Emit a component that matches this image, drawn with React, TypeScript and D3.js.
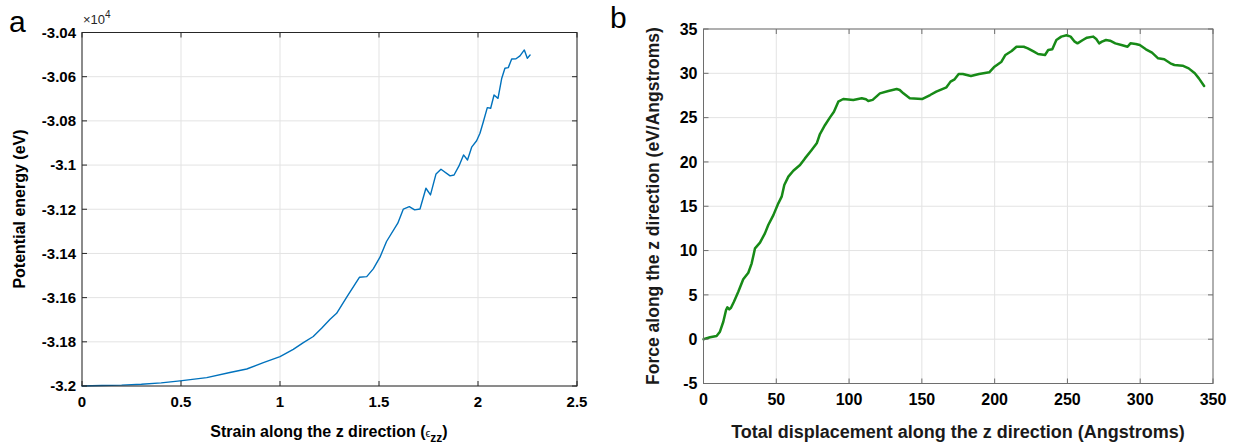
import React from "react";
import * as d3 from "d3";

// ---------- Panel a data (strain vs potential energy, ×10^4 eV) ----------
const strainA = [0, 0.1, 0.2, 0.3, 0.4, 0.495, 0.63, 0.747, 0.832, 0.916, 1.0, 1.067, 1.118, 1.168, 1.21, 1.253, 1.286, 1.337, 1.401, 1.438, 1.471, 1.505, 1.538, 1.595, 1.623, 1.653, 1.68, 1.707, 1.737, 1.76, 1.788, 1.813, 1.859, 1.879, 1.904, 1.927, 1.947, 1.968, 1.993, 2.01, 2.027, 2.047, 2.064, 2.081, 2.101, 2.12, 2.136, 2.153, 2.17, 2.192, 2.212, 2.234, 2.249, 2.263];
const energyA = [-3.2, -3.1998, -3.1996, -3.1992, -3.1986, -3.1977, -3.1962, -3.1939, -3.1923, -3.1894, -3.1867, -3.1834, -3.1804, -3.1776, -3.1739, -3.1698, -3.1671, -3.1598, -3.1508, -3.1505, -3.147, -3.1417, -3.1346, -3.1263, -3.1199, -3.1188, -3.1203, -3.1199, -3.1105, -3.1135, -3.104, -3.1019, -3.1049, -3.1045, -3.1004, -3.0954, -3.0977, -3.0919, -3.089, -3.0856, -3.0804, -3.074, -3.0743, -3.0683, -3.0698, -3.0607, -3.0562, -3.0559, -3.052, -3.0519, -3.0506, -3.0479, -3.0517, -3.0502];
const xTicksA = [0, 0.5, 1, 1.5, 2, 2.5];
const xTickLabelsA = ["0", "0.5", "1", "1.5", "2", "2.5"];
const yTicksA = [-3.2, -3.18, -3.16, -3.14, -3.12, -3.1, -3.08, -3.06, -3.04];
const yTickLabelsA = ["-3.2", "-3.18", "-3.16", "-3.14", "-3.12", "-3.1", "-3.08", "-3.06", "-3.04"];

// ---------- Panel b data (displacement vs force) ----------
const dispB = [0, 4.5, 9.0, 11.3, 13.6, 15.5, 16.4, 17.7, 18.9, 20.9, 23.9, 27.3, 30.8, 33.1, 35.4, 38.8, 42.2, 44.5, 48.0, 51.4, 53.7, 55.5, 58.3, 61.7, 66.3, 69.7, 74.3, 77.8, 80.0, 83.5, 86.9, 89.6, 92.6, 96.0, 102.9, 108.7, 111.6, 113.2, 116.2, 121.2, 127, 132.7, 134.8, 137.3, 141.7, 150.1, 155.7, 159.9, 166.9, 169.7, 172.5, 175.3, 178.1, 183.7, 189.3, 196.3, 199.9, 204.7, 207.4, 211.7, 215, 220, 222.8, 227, 229.8, 234.6, 236.8, 239.6, 242.4, 245.8, 249.4, 252.2, 255, 256.9, 260.6, 263.4, 267.6, 269.8, 271.8, 273.7, 276.5, 279.3, 282.9, 287.1, 291.3, 293.3, 296.9, 299.7, 303.9, 308.1, 312.3, 316.5, 320.7, 323.5, 329.1, 333.3, 337.5, 340.3, 343.9];
const forceB = [0, 0.21, 0.36, 0.85, 1.97, 3.3, 3.6, 3.37, 3.55, 4.23, 5.36, 6.76, 7.5, 8.56, 10.25, 10.89, 11.94, 12.88, 14.0, 15.33, 16.08, 17.4, 18.34, 19.01, 19.65, 20.4, 21.35, 22.1, 23.15, 24.17, 25.03, 25.67, 26.8, 27.1, 26.99, 27.18, 27.07, 26.88, 27.0, 27.74, 28.0, 28.23, 28.12, 27.74, 27.18, 27.1, 27.55, 27.93, 28.42, 29.06, 29.32, 29.92, 29.92, 29.7, 29.92, 30.11, 30.75, 31.31, 32.07, 32.52, 33.0, 33.0, 32.82, 32.44, 32.18, 32.07, 32.63, 32.71, 33.76, 34.14, 34.29, 34.14, 33.57, 33.38, 33.76, 34.02, 34.14, 33.87, 33.38, 33.57, 33.76, 33.68, 33.38, 33.19, 33.0, 33.38, 33.31, 33.19, 32.71, 32.33, 31.69, 31.58, 31.13, 30.94, 30.86, 30.56, 30.0, 29.43, 28.57];
const xTicksB = [0, 50, 100, 150, 200, 250, 300, 350];
const yTicksB = [-5, 0, 5, 10, 15, 20, 25, 30, 35];

const FONT = "'Liberation Sans', Arial, Helvetica, sans-serif";
const GRID = "#e3e3e3";

function Panel(props: any) {
  const { x0, x1, y0, y1, xDomain, yDomain, xTicks, xLabels, yTicks, yLabels, xs, ys, color, lw, tickFont, boxColor, gridColor } = props;
  const xScale = d3.scaleLinear().domain(xDomain).range([x0, x1]);
  const yScale = d3.scaleLinear().domain(yDomain).range([y1, y0]);
  const line = d3.line<number>().x((_, i) => xScale(xs[i])).y((d) => yScale(d));
  const tl = 5;
  return (
    <g>
      {xTicks.map((t: number) => (
        <line key={"gx" + t} x1={xScale(t)} x2={xScale(t)} y1={y0} y2={y1} stroke={gridColor} strokeWidth={1} />
      ))}
      {yTicks.map((t: number) => (
        <line key={"gy" + t} x1={x0} x2={x1} y1={yScale(t)} y2={yScale(t)} stroke={gridColor} strokeWidth={1} />
      ))}
      <path d={line(ys) || ""} fill="none" stroke={color} strokeWidth={lw} strokeLinejoin="round" strokeLinecap="round" />
      <rect x={x0} y={y0} width={x1 - x0} height={y1 - y0} fill="none" stroke={boxColor} strokeWidth={1} />
      {xTicks.map((t: number) => (
        <g key={"tx" + t}>
          <line x1={xScale(t)} x2={xScale(t)} y1={y1} y2={y1 - tl} stroke={boxColor} />
          <line x1={xScale(t)} x2={xScale(t)} y1={y0} y2={y0 + tl} stroke={boxColor} />
        </g>
      ))}
      {yTicks.map((t: number) => (
        <g key={"ty" + t}>
          <line x1={x0} x2={x0 + tl} y1={yScale(t)} y2={yScale(t)} stroke={boxColor} />
          <line x1={x1} x2={x1 - tl} y1={yScale(t)} y2={yScale(t)} stroke={boxColor} />
        </g>
      ))}
      {xTicks.map((t: number, i: number) => (
        <text key={"lx" + t} x={xScale(t)} y={y1 + 21} textAnchor="middle" fontFamily={FONT} fontWeight="bold" fontSize={tickFont} fill="#000">
          {xLabels[i]}
        </text>
      ))}
      {yTicks.map((t: number, i: number) => (
        <text key={"ly" + t} x={x0 - 6} y={yScale(t)} dy="0.36em" textAnchor="end" fontFamily={FONT} fontWeight="bold" fontSize={tickFont} fill="#000">
          {yLabels[i]}
        </text>
      ))}
    </g>
  );
}

export default function App() {
  return (
    <svg width={1239} height={445} style={{ position: "absolute", left: 0, top: 0, background: "#fff" }}>
      <rect x={0} y={0} width={1239} height={445} fill="#fff" />
      {/* Panel a */}
      <text x={9} y={32} fontFamily={FONT} fontSize={30} fill="#000">a</text>
      <Panel
        x0={82} x1={577} y0={32.5} y1={386}
        xDomain={[0, 2.5]} yDomain={[-3.2, -3.04]}
        xTicks={xTicksA} xLabels={xTickLabelsA}
        yTicks={yTicksA} yLabels={yTickLabelsA}
        xs={strainA} ys={energyA}
        color="#0072BD" lw={1.4} tickFont={15} boxColor="#262626" gridColor={GRID}
      />
      <text x={83} y={24} fontFamily={FONT} fontSize={13} fill="#262626">
        ×10<tspan dy={-6} fontSize={10}>4</tspan>
      </text>
      <text x={329} y={437} textAnchor="middle" fontFamily={FONT} fontWeight="bold" fontSize={16} fill="#000">
        Strain along the z direction (<tspan fontWeight="normal" fontSize={11}>ϵ</tspan><tspan dy={5} fontSize={12}>zz</tspan><tspan dy={-5}>)</tspan>
      </text>
      <text transform="translate(24.5,209) rotate(-90)" textAnchor="middle" fontFamily={FONT} fontWeight="bold" fontSize={16} fill="#000">
        Potential energy (eV)
      </text>

      {/* Panel b */}
      <text x={610} y={28} fontFamily={FONT} fontSize={30} fill="#000">b</text>
      <Panel
        x0={703.5} x1={1213} y0={29} y1={383.5}
        xDomain={[0, 350]} yDomain={[-5, 35]}
        xTicks={xTicksB} xLabels={xTicksB.map(String)}
        yTicks={yTicksB} yLabels={yTicksB.map(String)}
        xs={dispB} ys={forceB}
        color="#178a17" lw={2.5} tickFont={16} boxColor="#6e6e6e" gridColor={GRID}
      />
      <text x={958} y={438} textAnchor="middle" fontFamily={FONT} fontWeight="bold" fontSize={18} fill="#1a1a1a">
        Total displacement along the z direction (Angstroms)
      </text>
      <text transform="translate(659,206) rotate(-90)" textAnchor="middle" fontFamily={FONT} fontWeight="bold" fontSize={17.5} fill="#1a1a1a">
        Force along the z direction (eV/Angstroms)
      </text>
    </svg>
  );
}
